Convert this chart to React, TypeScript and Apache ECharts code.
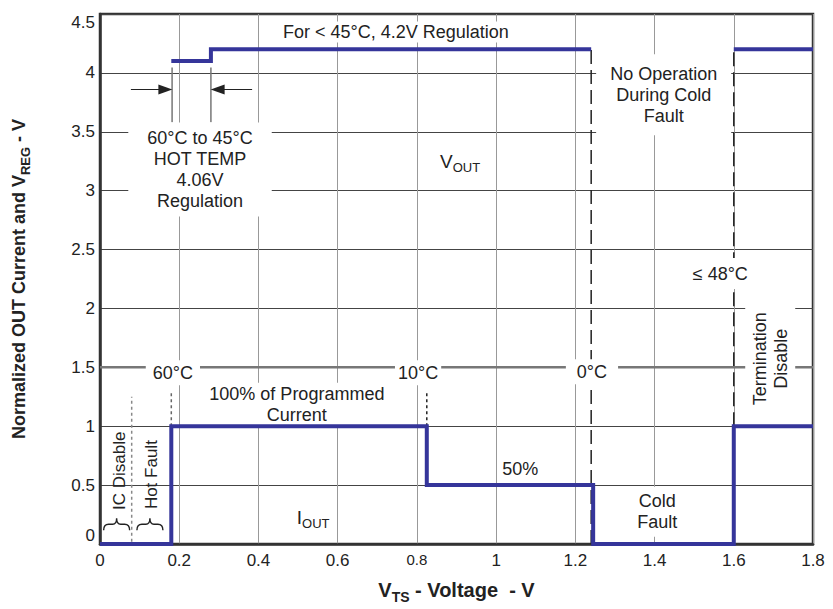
import React, { useEffect, useRef } from 'react';
import * as echarts from 'echarts';

// ---- data ----
const ioutBreaks = [0, 0.18, 0.825, 1.245, 1.6, 1.8];
const ioutLevels = [0, 1, 0.5, 0, 1];
const vregHotBreaks = [0.18, 0.28, 1.24];
const vregHotLevels = [4.1, 4.2];
const vregColdBreaks = [1.6, 1.8];
const vregColdLevels = [4.2];

const xMin = 0, xMax = 1.8, xStep = 0.2;
const yMin = 0, yMax = 4.5, yStep = 0.5;

const FONT = '"Liberation Sans", Arial, Helvetica, sans-serif';
const LINE = '#35359a';

echarts.graphic.registerShape(
  'brace',
  echarts.graphic.extendPath('M-13,6 Q-13,0 -8,0 L-4,0 Q0,0 0,-6 Q0,0 4,0 L8,0 Q13,0 13,6', {}) as any
);

function steps(b: number[], l: number[]) {
  const pts: number[][] = [];
  for (let i = 0; i < l.length; i++) {
    pts.push([b[i], l[i]]);
    pts.push([b[i + 1], l[i]]);
  }
  return pts;
}

type Guide = { pts: number[][]; color: string; width: number; dash?: number[] };
const guides: Guide[] = [
  { pts: [[0.08, 0.02], [0.08, 1.25]], color: '#888', width: 1.5, dash: [3, 3] },
  { pts: [[0.18, 1], [0.18, 1.3]], color: '#666', width: 1.5, dash: [3, 3] },
  { pts: [[0.825, 1], [0.825, 1.3]], color: '#222', width: 1.5, dash: [3, 3] },
  { pts: [[1.24, 0], [1.24, 4.2]], color: '#222', width: 1.5, dash: [14, 6] },
  { pts: [[1.6, 1], [1.6, 4.2]], color: '#222', width: 1.5, dash: [14, 6] },
  { pts: [[0, 1.5], [1.8, 1.5]], color: '#777', width: 2.5 },
  { pts: [[0.182, 4.045], [0.182, 3.58]], color: '#777', width: 1.5 },
  { pts: [[0.28, 4.045], [0.28, 3.58]], color: '#777', width: 1.5 },
];

type Note = {
  text: string;
  at: number[];
  pad?: number[];
  bg?: boolean;
  rotate?: boolean;
  size?: number;
  rich?: boolean;
};

const notes: Note[] = [
  { text: 'For < 45°C, 4.2V Regulation', at: [0.747, 4.348], pad: [0, 2], bg: true },
  { text: '60°C to 45°C\nHOT TEMP\n4.06V\nRegulation', at: [0.2525, 3.179], pad: [5, 19], bg: true },
  { text: '{a|V}{s|OUT}', at: [0.909, 3.246], rich: true },
  { text: 'No Operation\nDuring Cold\nFault', at: [1.423, 3.814], pad: [9, 14], bg: true },
  { text: '≤ 48°C', at: [1.566, 2.296], pad: [5, 2], bg: true },
  { text: 'Termination\nDisable', at: [1.692, 1.572], pad: [4, 8], bg: true, rotate: true },
  { text: '60°C', at: [0.184, 1.455], pad: [2, 7], bg: true },
  { text: '10°C', at: [0.803, 1.455], pad: [2, 3], bg: true },
  { text: '0°C', at: [1.242, 1.463], pad: [2, 11], bg: true },
  { text: '100% of Programmed\nCurrent', at: [0.497, 1.182], pad: [1, 6], bg: true },
  { text: '50%', at: [1.061, 0.639], pad: [1, 2], bg: true },
  { text: 'Cold\nFault', at: [1.407, 0.273], pad: [4, 6], bg: true },
  { text: '{a|I}{s|OUT}', at: [0.538, 0.219], rich: true },
  { text: 'IC Disable', at: [0.048, 0.622], rotate: true, size: 17 },
  { text: 'Hot Fault', at: [0.131, 0.589], rotate: true, size: 17 },
];

const braces = [
  [0.042, 0.168],
  [0.126, 0.168],
];

const subRich = {
  a: { fontSize: 19, fontFamily: FONT, lineHeight: 20, verticalAlign: 'top', color: '#222' },
  s: { fontSize: 13, fontFamily: FONT, lineHeight: 14, padding: [9, 0, 0, 0], verticalAlign: 'top', color: '#222' },
};

export default function App() {
  const ref = useRef<HTMLDivElement>(null);
  useEffect(() => {
    document.body.style.margin = '0';
    if (!ref.current) return;
    const chart = echarts.init(ref.current, undefined, { renderer: 'svg' });

    const series: any[] = [];
    guides.forEach((g) => {
      series.push({
        type: 'line',
        data: g.pts,
        symbol: 'none',
        z: 1,
        silent: true,
        clip: false,
        lineStyle: { color: g.color, width: g.width, type: g.dash ? g.dash : 'solid' },
      });
    });
    series.push({
      type: 'line',
      data: [],
      symbol: 'none',
      z: 1,
      markLine: {
        silent: true,
        animation: false,
        symbol: ['none', 'triangle'],
        symbolSize: [10, 14],
        label: { show: false },
        lineStyle: { color: '#222', width: 1.2, type: 'solid' },
        data: [
          [{ coord: [0.078, 3.86] }, { coord: [0.165, 3.86] }],
          [{ coord: [0.384, 3.86] }, { coord: [0.297, 3.86] }],
        ],
      },
    });
    [steps(ioutBreaks, ioutLevels), steps(vregHotBreaks, vregHotLevels), steps(vregColdBreaks, vregColdLevels)].forEach((d) => {
      series.push({
        type: 'line',
        data: d,
        symbol: 'none',
        z: 5,
        clip: false,
        lineStyle: { color: LINE, width: 4, join: 'miter' },
      });
    });

    chart.setOption({
      animation: false,
      backgroundColor: '#fff',
      grid: { left: 100, right: 20, top: 14, bottom: 60, show: true, borderColor: '#333', borderWidth: 2.5 },
      xAxis: {
        type: 'value',
        min: xMin,
        max: xMax,
        interval: xStep,
        name: '{b|V}{s|TS}{b| - Voltage  - V}',
        nameLocation: 'middle',
        nameGap: 36,
        nameTextStyle: {
          rich: {
            b: { fontSize: 20, fontWeight: 'bold', fontFamily: FONT, color: '#222', lineHeight: 22, verticalAlign: 'top' },
            s: { fontSize: 14, fontWeight: 'bold', fontFamily: FONT, color: '#222', lineHeight: 14, padding: [10, 0, 0, 0], verticalAlign: 'top' },
          },
        },
        axisLine: { show: true, lineStyle: { color: '#333', width: 2.5 } },
        axisTick: { show: false },
        axisLabel: {
          margin: 8,
          fontSize: 17,
          fontFamily: FONT,
          color: '#222',
          formatter: (v: number) => (Math.abs(v - 0.8) < 1e-6 ? '{s|0.8}' : String(+v.toFixed(1))),
          rich: { s: { fontSize: 15, fontFamily: FONT, color: '#222', padding: [0, 0, 6, 0] } },
        },
        splitLine: { show: true, lineStyle: { color: '#999', width: 1 } },
      },
      yAxis: {
        type: 'value',
        min: yMin,
        max: yMax,
        interval: yStep,
        name: '{b|Normalized OUT Current and V}{s|REG}{b| - V}',
        nameLocation: 'middle',
        nameGap: 70,
        nameRotate: 90,
        nameTextStyle: {
          rich: {
            b: { fontSize: 18, fontWeight: 'bold', fontFamily: FONT, color: '#222', lineHeight: 20, verticalAlign: 'top' },
            s: { fontSize: 13, fontWeight: 'bold', fontFamily: FONT, color: '#222', lineHeight: 13, padding: [9, 0, 0, 0], verticalAlign: 'top' },
          },
        },
        axisLine: { show: true, lineStyle: { color: '#333', width: 2.5 } },
        axisTick: { show: false },
        axisLabel: {
          margin: 5,
          fontSize: 17,
          fontFamily: FONT,
          color: '#222',
          verticalAlignMaxLabel: 'top',
          verticalAlignMinLabel: 'bottom',
        },
        splitLine: { show: true, lineStyle: { color: '#444', width: 1 } },
      },
      series,
    });

    const toPx = (p: number[]) => chart.convertToPixel({ gridIndex: 0 }, p) as number[];
    const elements: any[] = [];
    notes.forEach((n) => {
      const [px, py] = toPx(n.at);
      const style: any = {
        text: n.text,
        x: 0,
        y: 0,
        align: 'center',
        verticalAlign: 'middle',
        textAlign: 'center',
        textVerticalAlign: 'middle',
        fill: '#222',
        fontSize: n.size || 18,
        fontFamily: FONT,
        lineHeight: 21,
      };
      if (n.bg) {
        style.backgroundColor = '#fff';
        style.padding = n.pad || [0, 0];
      }
      if (n.rich) style.rich = subRich;
      elements.push({
        type: 'text',
        x: px,
        y: py,
        rotation: n.rotate ? Math.PI / 2 : 0,
        z: 3,
        silent: true,
        style,
      });
    });
    braces.forEach((b) => {
      const [px, py] = toPx(b);
      elements.push({
        type: 'brace',
        x: px,
        y: py,
        z: 3,
        silent: true,
        style: { stroke: '#222', fill: 'none', lineWidth: 1.4 },
      });
    });
    chart.setOption({ graphic: { elements } });

    return () => chart.dispose();
  }, []);
  return <div ref={ref} style={{ width: 833, height: 609 }} />;
}
